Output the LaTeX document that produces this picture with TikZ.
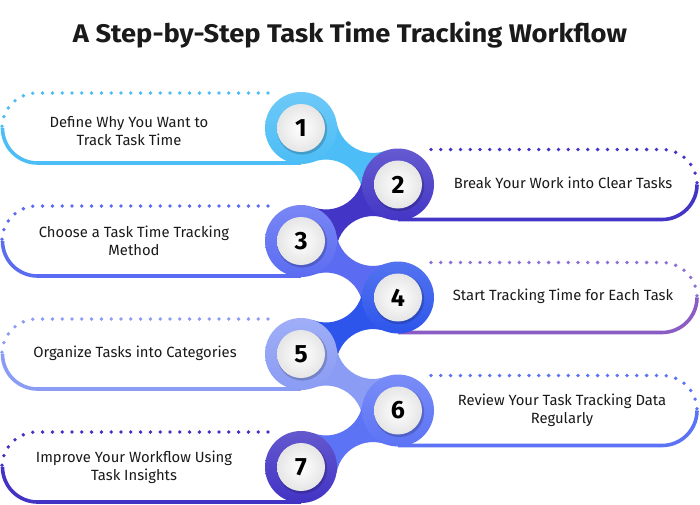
\documentclass[tikz,border=0pt]{standalone}
\usepackage{fontspec}
\setmainfont{Fira Sans}
\newfontfamily\titlefont[FakeStretch=1.07]{Fira Sans}
\usetikzlibrary{calc}
\definecolor{c1}{HTML}{4CBDF6}
\definecolor{c2}{HTML}{4336C6}
\definecolor{c3}{HTML}{5B6CF2}
\definecolor{c4}{HTML}{2D55EC}
\definecolor{c5}{HTML}{8A9CF4}
\definecolor{c6}{HTML}{5C73F5}
\definecolor{c7}{HTML}{4233C4}
\definecolor{p4line}{HTML}{8A5CC4}
\definecolor{p4dot}{HTML}{8C70D8}
\definecolor{txtc}{HTML}{1A1A1A}
\tikzset{
  dotline/.style={line width=3.8pt, line cap=round, dash pattern=on 0pt off 9.8pt},
  solidline/.style={line width=3.6pt},
  ringnode/.style={circle, minimum size=72pt, inner sep=0pt, left color=#1!82!white, right color=#1, shading angle=0},
  facenode/.style={circle, minimum size=48pt, inner sep=0pt, inner color=white, outer color=black!10,
     font=\bfseries\fontsize{25}{25}\selectfont, text=black},
  txt/.style={align=center, font=\fontsize{14.8}{18}\selectfont, text=txtc},
}
\newcommand\leftpanel[3]{%
  \draw[dotline, #2] (268,{#1+35}) -- (37,{#1+35}) arc[start angle=90, end angle=180, radius=35pt];
  \draw[solidline, #3] (2.5,#1) arc[start angle=180, end angle=270, radius=35pt] -- (301,{#1-35});}
\newcommand\rightpanel[3]{%
  \draw[dotline, #2] (431,{#1+35}) -- (662,{#1+35}) arc[start angle=90, end angle=0, radius=35pt];
  \draw[solidline, #3] (697,#1) arc[start angle=0, end angle=-90, radius=35pt] -- (398,{#1-35});}
\begin{document}
\begin{tikzpicture}[x=1pt, y=1pt]
\useasboundingbox (0,0) rectangle (700,-504);
\fill[white] (0,0) rectangle (700,-504);

\node[anchor=base, font=\titlefont\bfseries\fontsize{25.5}{28}\selectfont, text=txtc] (title) at (350,-42)
  {A Step-by-Step Task Time Tracking Workflow};

% panels
\leftpanel{-128}{c1}{c1}
\rightpanel{-184.5}{c2}{c2}
\leftpanel{-241}{c3}{c3}
\rightpanel{-297.5}{p4dot}{p4line}
\leftpanel{-354}{c5}{c5}
\rightpanel{-410.5}{c6}{c6}
\leftpanel{-467}{c7}{c7}

% circle anchors
\coordinate (n1) at (301,-128);
\coordinate (n2) at (398,-184.5);
\coordinate (n3) at (301,-241);
\coordinate (n4) at (398,-297.5);
\coordinate (n5) at (301,-354);
\coordinate (n6) at (398,-410.5);
\coordinate (n7) at (301,-467);

% necks
\fill[c1] (n1) -- ++(35.505,5.961) arc[start angle=189.53, end angle=290.03, radius=37pt] -- (n2) -- ++(-35.505,-5.961) arc[start angle=9.53, end angle=110.03, radius=37pt] -- cycle;
\fill[c2] (n2) -- ++(-35.505,5.961) arc[start angle=-9.53, end angle=-110.03, radius=37pt] -- (n3) -- ++(35.505,-5.961) arc[start angle=170.47, end angle=69.97, radius=37pt] -- cycle;
\fill[c3] (n3) -- ++(35.505,5.961) arc[start angle=189.53, end angle=290.03, radius=37pt] -- (n4) -- ++(-35.505,-5.961) arc[start angle=9.53, end angle=110.03, radius=37pt] -- cycle;
\fill[c4] (n4) -- ++(-35.505,5.961) arc[start angle=-9.53, end angle=-110.03, radius=37pt] -- (n5) -- ++(35.505,-5.961) arc[start angle=170.47, end angle=69.97, radius=37pt] -- cycle;
\fill[c5] (n5) -- ++(35.505,5.961) arc[start angle=189.53, end angle=290.03, radius=37pt] -- (n6) -- ++(-35.505,-5.961) arc[start angle=9.53, end angle=110.03, radius=37pt] -- cycle;
\fill[c6] (n6) -- ++(-35.505,5.961) arc[start angle=-9.53, end angle=-110.03, radius=37pt] -- (n7) -- ++(35.505,-5.961) arc[start angle=170.47, end angle=69.97, radius=37pt] -- cycle;

% rings
\foreach \i in {1,...,7}{
  \node[ringnode=c\i] (r\i) at (n\i) {};
  \fill[black, opacity=0.18] ([shift={(1.2,-1.6)}]n\i) circle (25pt);
  \node[facenode] (f\i) at (n\i) {\i};
}

% texts
\node[txt] (t1) at (129,-131) {Define Why You Want to\\Track Task Time};
\node[txt] (t2) at (563,-183) {Break Your Work into Clear Tasks};
\node[txt] (t3) at (134,-240.5) {Choose a Task Time Tracking\\Method};
\node[txt] (t4) at (563,-296.5) {Start Tracking Time for Each Task};
\node[txt] (t5) at (135,-353) {Organize Tasks into Categories};
\node[txt] (t6) at (562,-410) {Review Your Task Tracking Data\\Regularly};
\node[txt] (t7) at (134,-467) {Improve Your Workflow Using\\Task Insights};
\end{tikzpicture}
\end{document}
